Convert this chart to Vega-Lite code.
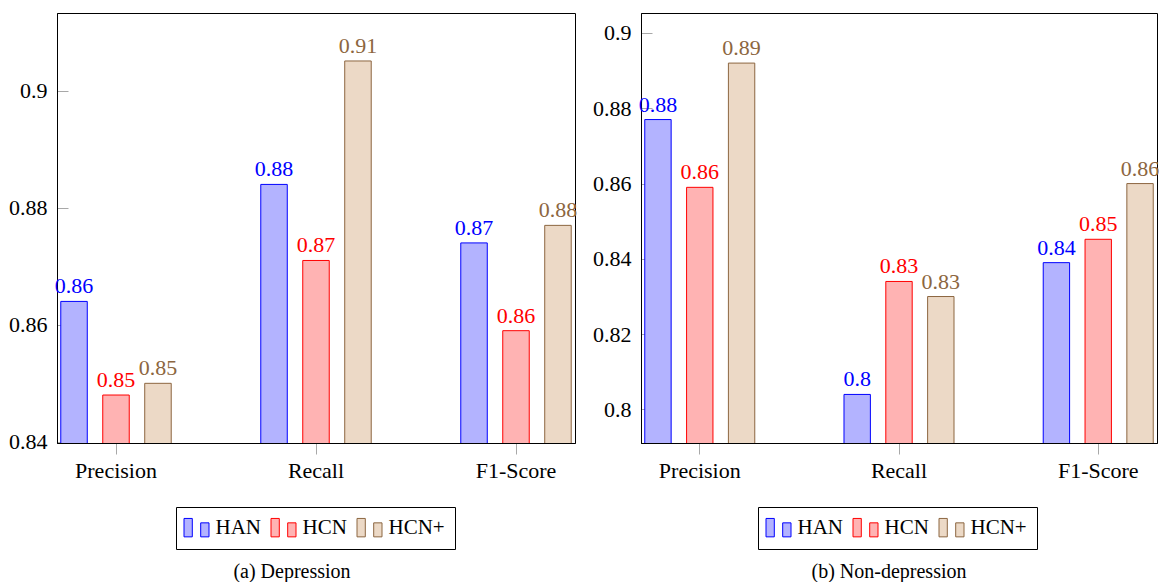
{
  "$schema": "https://vega.github.io/schema/vega-lite/v6.json",
  "autosize": {"type": "pad"},
  "padding": {"left": 8, "top": 12, "right": 0, "bottom": 0},
  "spacing": 14,
  "datasets": {
    "dep": [
      {"metric": "Precision", "model": "HAN", "value": 0.864},
      {"metric": "Precision", "model": "HCN", "value": 0.848},
      {"metric": "Precision", "model": "HCN+", "value": 0.850},
      {"metric": "Recall", "model": "HAN", "value": 0.884},
      {"metric": "Recall", "model": "HCN", "value": 0.871},
      {"metric": "Recall", "model": "HCN+", "value": 0.9051},
      {"metric": "F1-Score", "model": "HAN", "value": 0.874},
      {"metric": "F1-Score", "model": "HCN", "value": 0.859},
      {"metric": "F1-Score", "model": "HCN+", "value": 0.877}
    ],
    "nondep": [
      {"metric": "Precision", "model": "HAN", "value": 0.877},
      {"metric": "Precision", "model": "HCN", "value": 0.859},
      {"metric": "Precision", "model": "HCN+", "value": 0.892},
      {"metric": "Recall", "model": "HAN", "value": 0.804},
      {"metric": "Recall", "model": "HCN", "value": 0.834},
      {"metric": "Recall", "model": "HCN+", "value": 0.830},
      {"metric": "F1-Score", "model": "HAN", "value": 0.839},
      {"metric": "F1-Score", "model": "HCN", "value": 0.8452},
      {"metric": "F1-Score", "model": "HCN+", "value": 0.860}
    ]
  },
  "hconcat": [
    {
      "width": 518,
      "height": 430,
      "data": {"name": "dep"},
      "title": {"text": "(a) Depression", "orient": "bottom", "frame": "group", "anchor": "middle", "dx": -24, "offset": 12},
      "layer": [
        {
          "mark": {"type": "bar", "strokeWidth": 1, "clip": true},
          "encoding": {
            "x": {"field": "metric", "type": "nominal", "sort": ["Precision", "Recall", "F1-Score"],
                  "scale": {"paddingInner": 0.41, "paddingOuter": 0},
                  "axis": {"orient": "bottom", "tickSize": 11, "labelPadding": 6, "labelAngle": 0, "title": null}},
            "y": {"field": "value", "type": "quantitative",
                  "scale": {"domain": [0.8398, 0.9133], "zero": false, "nice": false},
                  "axis": {"orient": "left", "values": [0.84, 0.86, 0.88, 0.9], "format": ".2~f", "tickSize": -11, "labelPadding": 21, "title": null}},
            "xOffset": {"field": "model", "type": "nominal", "sort": ["HAN", "HCN", "HCN+"], "scale": {"paddingInner": 0.369, "paddingOuter": 0.09}},
            "fill": {"field": "model", "type": "nominal", "scale": {"domain": ["HAN", "HCN", "HCN+"], "range": ["#b3b3ff", "#ffb3b3", "#ecd9c6"]},
                     "legend": {"orient": "none", "legendX": 119, "legendY": 494, "direction": "horizontal", "title": null}},
            "stroke": {"field": "model", "type": "nominal", "scale": {"domain": ["HAN", "HCN", "HCN+"], "range": ["#0000ff", "#ff0000", "#8c6640"]},
                     "legend": {"orient": "none", "legendX": 119, "legendY": 494, "direction": "horizontal", "title": null}}
          }
        },
        {
          "mark": {"type": "text", "baseline": "alphabetic", "dy": -8, "fontSize": 22, "font": "Liberation Serif"},
          "encoding": {
            "x": {"field": "metric", "type": "nominal", "sort": ["Precision", "Recall", "F1-Score"]},
            "y": {"field": "value", "type": "quantitative"},
            "xOffset": {"field": "model", "type": "nominal", "sort": ["HAN", "HCN", "HCN+"]},
            "text": {"field": "value", "type": "quantitative", "format": ".2~f"},
            "color": {"field": "model", "type": "nominal", "scale": {"domain": ["HAN", "HCN", "HCN+"], "range": ["#0000ff", "#ff0000", "#8c6640"]}, "legend": null}
          }
        }
      ]
    },
    {
      "width": 516,
      "height": 430,
      "data": {"name": "nondep"},
      "title": {"text": "(b) Non-depression", "orient": "bottom", "frame": "group", "anchor": "middle", "dx": -10, "offset": 12},
      "layer": [
        {
          "mark": {"type": "bar", "strokeWidth": 1, "clip": true},
          "encoding": {
            "x": {"field": "metric", "type": "nominal", "sort": ["Precision", "Recall", "F1-Score"],
                  "scale": {"paddingInner": 0.41, "paddingOuter": 0},
                  "axis": {"orient": "bottom", "tickSize": 11, "labelPadding": 6, "labelAngle": 0, "title": null}},
            "y": {"field": "value", "type": "quantitative",
                  "scale": {"domain": [0.7911, 0.9053], "zero": false, "nice": false},
                  "axis": {"orient": "left", "values": [0.8, 0.82, 0.84, 0.86, 0.88, 0.9], "format": ".2~f", "tickSize": -11, "labelPadding": 21, "title": null}},
            "xOffset": {"field": "model", "type": "nominal", "sort": ["HAN", "HCN", "HCN+"], "scale": {"paddingInner": 0.369, "paddingOuter": 0.09}},
            "fill": {"field": "model", "type": "nominal", "scale": {"domain": ["HAN", "HCN", "HCN+"], "range": ["#b3b3ff", "#ffb3b3", "#ecd9c6"]},
                     "legend": {"orient": "none", "legendX": 117, "legendY": 494, "direction": "horizontal", "title": null}},
            "stroke": {"field": "model", "type": "nominal", "scale": {"domain": ["HAN", "HCN", "HCN+"], "range": ["#0000ff", "#ff0000", "#8c6640"]},
                     "legend": {"orient": "none", "legendX": 117, "legendY": 494, "direction": "horizontal", "title": null}}
          }
        },
        {
          "mark": {"type": "text", "baseline": "alphabetic", "dy": -8, "fontSize": 22, "font": "Liberation Serif"},
          "encoding": {
            "x": {"field": "metric", "type": "nominal", "sort": ["Precision", "Recall", "F1-Score"]},
            "y": {"field": "value", "type": "quantitative"},
            "xOffset": {"field": "model", "type": "nominal", "sort": ["HAN", "HCN", "HCN+"]},
            "text": {"field": "value", "type": "quantitative", "format": ".2~f"},
            "color": {"field": "model", "type": "nominal", "scale": {"domain": ["HAN", "HCN", "HCN+"], "range": ["#0000ff", "#ff0000", "#8c6640"]}, "legend": null}
          }
        }
      ]
    }
  ],
  "resolve": {
    "scale": {"x": "independent", "y": "independent", "xOffset": "independent", "fill": "independent", "stroke": "independent", "color": "independent"},
    "legend": {"fill": "independent", "stroke": "independent", "color": "independent"}
  },
  "config": {
    "font": "Liberation Serif",
    "view": {"stroke": "black", "strokeWidth": 1},
    "title": {"font": "Liberation Serif", "fontSize": 20, "fontWeight": "normal", "color": "black"},
    "axis": {
      "grid": false,
      "domainColor": "black",
      "domainWidth": 1,
      "tickColor": "#a8a8a8",
      "tickWidth": 1,
      "labelColor": "black",
      "labelFont": "Liberation Serif",
      "labelFontSize": 22,
      "titleFont": "Liberation Serif",
      "titleFontWeight": "normal",
      "titleColor": "black"
    },
    "legend": {
      "strokeColor": "black",
      "padding": 10,
      "symbolType": "M-1.25,-0.92H-0.42V0.92H-1.25Z M0.42,-0.48H1.25V0.92H0.42Z",
      "symbolSize": 400,
      "symbolStrokeWidth": 1,
      "labelFont": "Liberation Serif",
      "labelFontSize": 21,
      "labelColor": "black",
      "labelOffset": 8.5,
      "columnPadding": 8
    }
  }
}
